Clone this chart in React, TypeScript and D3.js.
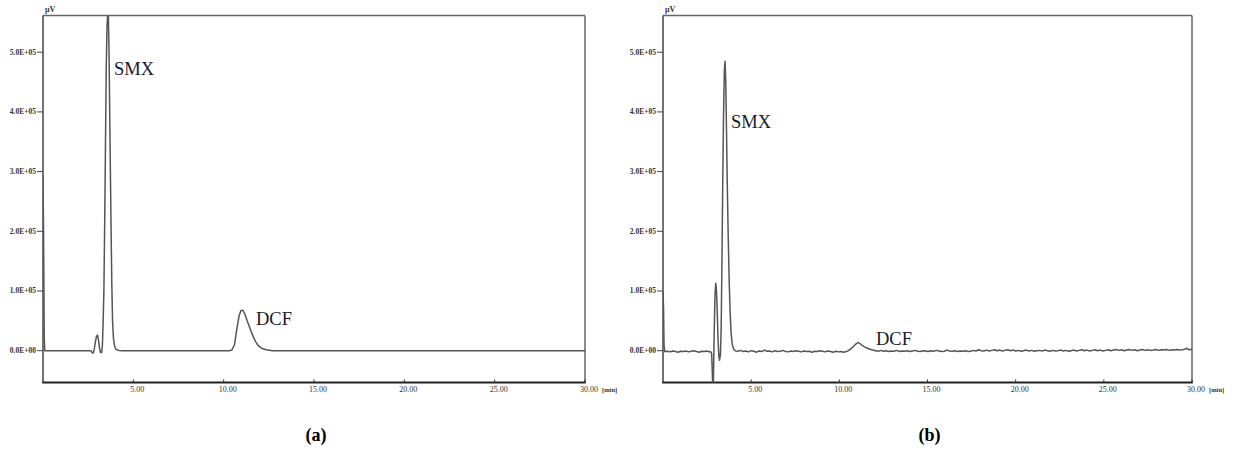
import React from "react";
import * as d3 from "d3";

type Pt = [number, number];

// Tick values
const yTicks = [0, 100000, 200000, 300000, 400000, 500000];
const xTicks = [5, 10, 15, 20, 25, 30];

// Chromatogram (a): time [min], signal [µV]
const traceA: Pt[] = [
  [0, 290000], [0.03, 200000], [0.07, 20000], [0.1, 0], [2.65, 0],
  [2.72, -3000], [2.78, -4000], [2.84, 3000], [2.9, 15000], [2.96, 24000],
  [3.02, 26000], [3.08, 16000], [3.14, 2000], [3.19, -3000], [3.25, -3000],
  [3.29, 10000], [3.33, 50000], [3.37, 100000], [3.41, 200000], [3.46, 350000],
  [3.5, 470000], [3.54, 540000], [3.58, 565000], [3.62, 560000], [3.66, 490000],
  [3.7, 380000], [3.73, 300000], [3.77, 200000], [3.81, 110000], [3.85, 50000],
  [3.9, 20000], [3.97, 7000], [4.05, 2000], [4.2, 500], [4.4, 0],
  [10.3, 0], [10.45, 1000], [10.6, 10000], [10.72, 35000], [10.85, 58000],
  [10.95, 67000], [11.05, 68000], [11.15, 63000], [11.3, 50000], [11.45, 38000],
  [11.6, 26000], [11.75, 16000], [11.9, 9000], [12.1, 4000], [12.35, 1500],
  [12.7, 0], [30, 0],
];

// Chromatogram (b): injection region and SMX
const traceBLead: Pt[] = [
  [0, 100000], [0.03, 70000], [0.06, 8000], [0.1, -1500], [0.25, -1000],
  [0.4, -2000], [0.55, -500], [0.7, -1500], [0.85, -2500], [1.0, -1000],
  [1.15, -1500], [1.3, -500], [1.45, -2000], [1.6, -1000], [1.75, 0],
  [1.9, -1500], [2.05, -2500], [2.2, -1000], [2.35, -1500], [2.5, -500],
  [2.62, -2000], [2.7, -1500], [2.76, -5000], [2.8, -40000], [2.84, -80000],
  [2.87, -30000], [2.91, 40000], [2.95, 95000], [2.99, 113000], [3.03, 102000],
  [3.07, 70000], [3.12, 20000], [3.17, -10000], [3.21, -16000], [3.26, -5000],
  [3.3, 40000], [3.34, 140000], [3.38, 260000], [3.43, 390000], [3.48, 470000],
  [3.52, 485000], [3.56, 450000], [3.6, 370000], [3.65, 270000], [3.7, 190000],
  [3.75, 120000], [3.8, 70000], [3.86, 30000], [3.93, 10000], [4.02, 2000],
  [4.12, -500],
];

// Chromatogram (b): baseline up to DCF
const traceBMid: Pt[] = [
  [4.25, -1000], [4.4, 500], [4.55, -1500], [4.7, -500], [4.85, -2000],
  [5.0, 0], [5.15, -1000], [5.3, -2500], [5.45, -500], [5.6, -1500],
  [5.75, 1000], [5.9, -1000], [6.05, -500], [6.2, -2000], [6.35, 0],
  [6.5, -1500], [6.65, -1000], [6.8, 500], [6.95, -1500], [7.1, -2000],
  [7.25, -500], [7.4, -1500], [7.55, 0], [7.7, -1000], [7.85, -2000],
  [8.0, -500], [8.15, -1500], [8.3, -1000], [8.45, -2500], [8.6, -1000],
  [8.75, -1500], [8.9, 0], [9.05, -1000], [9.2, -2000], [9.35, -500],
  [9.5, -1500], [9.65, -2500], [9.8, -1000], [9.95, -2000], [10.1, -1500],
  [10.25, -2500], [10.4, -1500],
];

// Chromatogram (b): DCF peak
const traceBDcf: Pt[] = [
  [10.52, 0], [10.65, 3000], [10.8, 7000], [10.95, 11500], [11.05, 13500],
  [11.15, 12500], [11.3, 9000], [11.45, 6000], [11.6, 4000], [11.75, 2500],
  [11.9, 1000], [12.05, 0], [12.2, -1000],
];

// Chromatogram (b): tail baseline
const traceBTail: Pt[] = [
  [12.35, 500], [12.5, -1000], [12.65, 0], [12.8, -1500], [12.95, -500],
  [13.1, -1000], [13.25, 500], [13.4, -1500], [13.55, -500], [13.7, -1000],
  [13.85, 0], [14.0, -1500], [14.15, -500], [14.3, 500], [14.45, -1000],
  [14.6, -1500], [14.75, 0], [14.9, -500], [15.05, -1500], [15.2, 0],
  [15.35, -1000], [15.5, 500], [15.65, -500], [15.8, -1500], [15.95, -1000],
  [16.1, 1000], [16.25, -500], [16.4, -1000], [16.55, 0], [16.7, -1500],
  [16.85, -500], [17.0, -1000], [17.15, 0], [17.3, -1500], [17.45, -1000],
  [17.6, 500], [17.75, -500], [17.9, 1500], [18.05, 0], [18.2, -500],
  [18.35, 1000], [18.5, -500], [18.65, 500], [18.8, 1500], [18.95, 0],
  [19.1, 1000], [19.25, -500], [19.4, 500], [19.55, 1500], [19.7, 0],
  [19.85, 1000], [20.0, -500], [20.15, 500], [20.3, -1000], [20.45, 0],
  [20.6, 1000], [20.75, -500], [20.9, 500], [21.05, -1000], [21.2, 0],
  [21.35, 500], [21.5, -500], [21.65, 1000], [21.8, 0], [21.95, -1000],
  [22.1, 500], [22.25, -500], [22.4, 0], [22.55, 1000], [22.7, -500],
  [22.85, 500], [23.0, -1000], [23.15, 0], [23.3, 1000], [23.45, -500],
  [23.6, 500], [23.75, 1500], [23.9, 0], [24.05, 1000], [24.2, -500],
  [24.35, 500], [24.5, 1500], [24.65, 0], [24.8, 1000], [24.95, -500],
  [25.1, 500], [25.25, 1500], [25.4, 0], [25.55, 1000], [25.7, 2000],
  [25.85, 500], [26.0, 1500], [26.15, 0], [26.3, 1000], [26.45, 2000],
  [26.6, 500], [26.75, 1500], [26.9, 0], [27.05, 1000], [27.2, 2000],
  [27.35, 500], [27.5, 1500], [27.65, 500], [27.8, 1000], [27.95, 2000],
  [28.1, 500], [28.25, 1500], [28.4, 1000], [28.55, 2000], [28.7, 500],
  [28.85, 1500], [29.0, 1000], [29.15, 2000], [29.3, 1000], [29.45, 1500],
  [29.6, 2500], [29.72, 4000], [29.8, 1500], [29.9, 2000], [30.0, 2000],
];

const traceB: Pt[] = [...traceBLead, ...traceBMid, ...traceBDcf, ...traceBTail];

const peakLabelsA = [
  { text: "SMX", x: 114, y: 75 },
  { text: "DCF", x: 256, y: 325 },
];
const peakLabelsB = [
  { text: "SMX", x: 731, y: 128 },
  { text: "DCF", x: 876, y: 345 },
];

const TOP = 15.5;
const BOTTOM = 382.5;
const Y_MIN = -53300;
const Y_MAX = 561500;

const fmtY = (v: number) => {
  const s = v.toExponential(1).toUpperCase(); // e.g. 5.0E+5
  const [m, e] = s.split("E");
  const sign = e.startsWith("-") ? "-" : "+";
  const digits = e.replace(/^[+-]/, "").padStart(2, "0");
  return `${m}E${sign}${digits}`;
};

function Panel({
  id,
  left,
  right,
  data,
  labels,
  caption,
}: {
  id: string;
  left: number;
  right: number;
  data: Pt[];
  labels: { text: string; x: number; y: number }[];
  caption: string;
}) {
  const x = d3.scaleLinear().domain([0, 30]).range([left, right]);
  const y = d3.scaleLinear().domain([Y_MIN, Y_MAX]).range([BOTTOM, TOP]);
  const line = d3
    .line<Pt>()
    .x((d) => x(d[0]))
    .y((d) => y(d[1]));
  const tickFont = "'Liberation Serif', 'DejaVu Serif', serif";
  return (
    <g>
      <defs>
        <clipPath id={`clip-${id}`}>
          <rect x={left} y={TOP} width={right - left} height={BOTTOM - TOP} />
        </clipPath>
      </defs>
      {/* frame */}
      <line x1={left} x2={right} y1={TOP} y2={TOP} stroke="#666" strokeWidth={1.5} />
      <line x1={right} x2={right} y1={TOP} y2={BOTTOM} stroke="#666" strokeWidth={1.5} />
      <line x1={left} x2={left} y1={TOP} y2={BOTTOM} stroke="#444" strokeWidth={1.5} />
      <line x1={left - 0.75} x2={right + 0.75} y1={BOTTOM} y2={BOTTOM} stroke="#222" strokeWidth={2} />
      {/* y axis ticks */}
      {yTicks.map((t) => (
        <g key={t}>
          <line x1={left - 6} x2={left} y1={y(t)} y2={y(t)} stroke="#444" strokeWidth={1} />
          <text
            x={left - 7}
            y={y(t) + 2.5}
            textAnchor="end"
            fontFamily={tickFont}
            fontSize={7.5}
            fontWeight="bold"
            fill="#333"
          >
            {fmtY(t)}
          </text>
        </g>
      ))}
      <text x={left + 2} y={12} fontFamily={tickFont} fontSize={8} fontWeight="bold" fill="#333">
        µV
      </text>
      {/* x axis ticks */}
      {xTicks.map((t) => (
        <g key={t}>
          <line x1={x(t)} x2={x(t)} y1={BOTTOM} y2={BOTTOM - 3} stroke="#333" strokeWidth={1} />
          <text
            x={x(t) + 4}
            y={392}
            textAnchor="middle"
            fontFamily={tickFont}
            fontSize={8}
            fill="#333"
          >
            {t.toFixed(2)}
          </text>
        </g>
      ))}
      <text x={x(30) + 17} y={392} fontFamily={tickFont} fontSize={6.5} fontWeight="bold" fill="#333">
        [min]
      </text>
      {/* trace */}
      <path
        d={line(data) ?? ""}
        fill="none"
        stroke="#555"
        strokeWidth={1.5}
        strokeLinejoin="round"
        clipPath={`url(#clip-${id})`}
      />
      {labels.map((l) => (
        <text
          key={l.text}
          x={l.x}
          y={l.y}
          fontFamily="'Liberation Serif', 'Times New Roman', serif"
          fontSize={18.5}
          fill="#1a1a2a"
        >
          {l.text}
        </text>
      ))}
      <text
        x={(left + right) / 2 + 2}
        y={441}
        textAnchor="middle"
        fontFamily="'Liberation Serif', 'Times New Roman', serif"
        fontSize={18}
        fontWeight="bold"
        fill="#000"
      >
        {caption}
      </text>
    </g>
  );
}

export default function App() {
  return (
    <svg
      width={1235}
      height={450}
      viewBox="0 0 1235 450"
      style={{ position: "absolute", left: 0, top: 0, background: "#fff" }}
    >
      <rect width={1235} height={450} fill="#fff" />
      <Panel id="a" left={43} right={585} data={traceA} labels={peakLabelsA} caption="(a)" />
      <Panel id="b" left={663} right={1192} data={traceB} labels={peakLabelsB} caption="(b)" />
    </svg>
  );
}
